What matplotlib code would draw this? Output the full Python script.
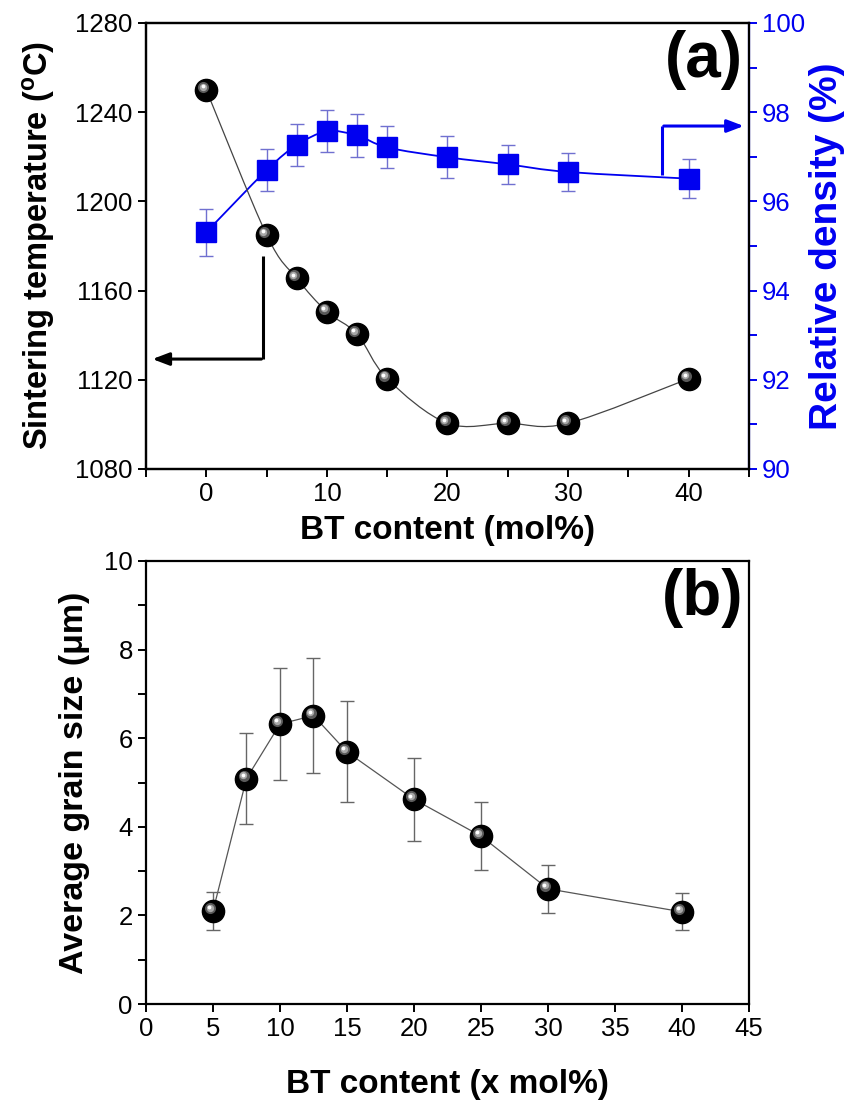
import numpy as np
import matplotlib
matplotlib.use("Agg")
import matplotlib.pyplot as plt
from matplotlib.path import Path
from matplotlib.patches import PathPatch
from matplotlib import transforms
from matplotlib.ticker import MultipleLocator

plt.rcParams['font.family'] = ['Liberation Sans', 'DejaVu Sans']
plt.rcParams['mathtext.default'] = 'regular'

# panel (a)
bt_a = [0, 5, 7.5, 10, 12.5, 15, 20, 25, 30, 40]
sinter_temp = [1250, 1185, 1165.5, 1150.5, 1140.5, 1120.5, 1100.5, 1100.5, 1100.5, 1120.5]
rel_density = [95.31, 96.70, 97.26, 97.57, 97.48, 97.21, 96.99, 96.83, 96.66, 96.51]
rel_density_err = [0.53, 0.47, 0.47, 0.47, 0.48, 0.47, 0.47, 0.43, 0.43, 0.43]

# panel (b)
bt_b = [5, 7.5, 10, 12.5, 15, 20, 25, 30, 40]
grain_size = [2.10, 5.09, 6.32, 6.51, 5.69, 4.62, 3.79, 2.60, 2.08]
grain_err = [0.42, 1.02, 1.27, 1.30, 1.14, 0.93, 0.76, 0.54, 0.42]

BLUE = '#0000f0'


def smooth_path(x, y):
    # catmull-rom through the points, drawn as cubic bezier pieces
    x = np.asarray(x, float)
    y = np.asarray(y, float)
    pts = np.column_stack([x, y])
    verts = [pts[0]]
    codes = [Path.MOVETO]
    n = len(pts)
    for i in range(n - 1):
        p0 = pts[i - 1] if i > 0 else pts[i]
        p1 = pts[i]
        p2 = pts[i + 1]
        p3 = pts[i + 2] if i + 2 < n else pts[i + 1]
        c1 = p1 + (p2 - p0) / 6.0
        c2 = p2 - (p3 - p1) / 6.0
        verts += [c1, c2, p2]
        codes += [Path.CURVE4] * 3
    return Path(verts, codes)


def balls(ax, x, y, fig, size=16):
    # black sphere with a soft highlight on the upper left
    ax.plot(x, y, 'o', ms=size, mfc='black', mec='black', zorder=5)
    hl = transforms.offset_copy(ax.transData, fig=fig, x=-size * 0.13, y=size * 0.13, units='points')
    ax.plot(x, y, 'o', ms=size * 0.5, mfc='#5a5a5a', mec='none', transform=hl, zorder=6)
    hl1 = transforms.offset_copy(ax.transData, fig=fig, x=-size * 0.15, y=size * 0.15, units='points')
    ax.plot(x, y, 'o', ms=size * 0.33, mfc='#a8a8a8', mec='none', transform=hl1, zorder=6)
    hl2 = transforms.offset_copy(ax.transData, fig=fig, x=-size * 0.17, y=size * 0.17, units='points')
    ax.plot(x, y, 'o', ms=size * 0.17, mfc='white', mec='none', transform=hl2, zorder=7)


def style_axis(ax):
    for s in ax.spines.values():
        s.set_linewidth(1.6)
    ax.tick_params(which='both', direction='out', length=6, width=1.4, labelsize=18.5)


fig = plt.figure(figsize=(8.45, 11.06), dpi=100)

# ---- (a) ----
ax1 = fig.add_axes([146 / 845, 1 - 469 / 1106, 603 / 845, 446 / 1106])
ax2 = ax1.twinx()
style_axis(ax1)
style_axis(ax2)

ax1.add_patch(PathPatch(smooth_path(bt_a, sinter_temp), fill=False, lw=0.9, ec='#444444', zorder=3))
balls(ax1, bt_a, sinter_temp, fig)
ax1.set_xlim(-5, 45)
ax1.set_ylim(1080, 1280)
ax1.xaxis.set_major_locator(MultipleLocator(10))
ax1.xaxis.set_minor_locator(MultipleLocator(5))
ax1.yaxis.set_major_locator(MultipleLocator(40))
ax1.tick_params(axis='y', which='both', right=False)
ax1.set_ylabel('Sintering temperature ($^o$C)', fontsize=23.5, fontweight='bold', labelpad=13)
ax1.set_xlabel('BT content (mol%)', fontsize=24, fontweight='bold', labelpad=6)

ax2.add_patch(PathPatch(smooth_path(bt_a, rel_density), fill=False, lw=1.3, ec=BLUE, zorder=3))
ax2.errorbar(bt_a, rel_density, yerr=rel_density_err, fmt='none', ecolor='#7070d0',
             elinewidth=1.0, capsize=5, capthick=1.0, zorder=4)
ax2.plot(bt_a, rel_density, 's', ms=14, mfc=BLUE, mec=BLUE, zorder=5)
ax2.set_ylim(90, 100)
ax2.yaxis.set_major_locator(MultipleLocator(2))
ax2.yaxis.set_minor_locator(MultipleLocator(1))
ax2.spines['right'].set_color(BLUE)
ax2.tick_params(axis='y', which='both', colors=BLUE)
ax2.set_ylabel('Relative density (%)', fontsize=28, fontweight='bold', color=BLUE, labelpad=3)
ax1.set_zorder(ax2.get_zorder() + 1)
ax1.patch.set_visible(False)

# guide arrows
ax1.plot([4.7, 4.7], [1175.5, 1129.3], color='black', lw=2.2, solid_capstyle='butt')
ax1.annotate('', xy=(-4.7, 1129.3), xytext=(4.8, 1129.3),
             arrowprops=dict(arrowstyle='-|>,head_length=1.0,head_width=0.38', color='black', lw=2.2))
ax2.plot([37.8, 37.8], [96.6, 97.69], color=BLUE, lw=2.2, solid_capstyle='butt')
ax2.annotate('', xy=(44.8, 97.69), xytext=(37.7, 97.69),
             arrowprops=dict(arrowstyle='-|>,head_length=1.0,head_width=0.38', color=BLUE, lw=2.2))

ax1.text(0.99, 0.985, '(a)', transform=ax1.transAxes, ha='right', va='top',
         fontsize=46, fontweight='bold')

# ---- (b) ----
ax3 = fig.add_axes([146 / 845, 1 - 1004 / 1106, 603 / 845, 443 / 1106])
style_axis(ax3)
ax3.plot(bt_b, grain_size, '-', color='#555555', lw=0.9, zorder=3)
ax3.errorbar(bt_b, grain_size, yerr=grain_err, fmt='none', ecolor='#666666',
             elinewidth=1.0, capsize=5, capthick=1.0, zorder=4)
balls(ax3, bt_b, grain_size, fig)
ax3.set_xlim(0, 45)
ax3.set_ylim(0, 10)
ax3.xaxis.set_major_locator(MultipleLocator(5))
ax3.yaxis.set_major_locator(MultipleLocator(2))
ax3.yaxis.set_minor_locator(MultipleLocator(1))
ax3.set_ylabel('Average grain size (\u03bcm)', fontsize=24.5, fontweight='bold', labelpad=10)
ax3.set_xlabel('BT content (x mol%)', fontsize=24, fontweight='bold', labelpad=20)
ax3.text(0.99, 0.985, '(b)', transform=ax3.transAxes, ha='right', va='top',
         fontsize=46, fontweight='bold')

fig.savefig('out.png', dpi=100)
